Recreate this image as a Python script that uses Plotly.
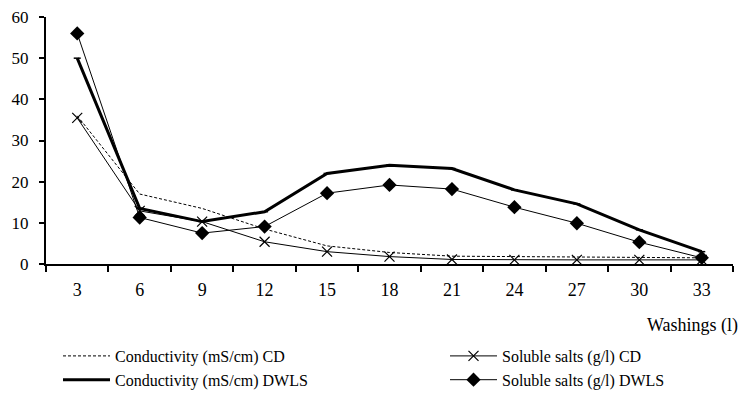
import plotly.graph_objects as go

washings = ["3", "6", "9", "12", "15", "18", "21", "24", "27", "30", "33"]
cond_cd = [36, 17, 13.5, 8.5, 4.4, 2.8, 1.9, 1.8, 1.7, 1.7, 1.5]
salts_cd = [35.5, 12.9, 10.3, 5.4, 3.0, 1.8, 1.1, 1.0, 1.0, 1.0, 1.0]
cond_dwls = [50, 13.5, 10.3, 12.7, 22, 24, 23.2, 18, 14.6, 8.3, 3.0]
salts_dwls = [56, 11.3, 7.5, 9.1, 17.2, 19.2, 18.2, 13.8, 9.9, 5.3, 1.5]

FONT = "Liberation Serif, Times New Roman, serif"

fig = go.Figure()
fig.add_trace(go.Scatter(
    x=washings, y=cond_cd, mode="lines", name="Conductivity (mS/cm) CD",
    line=dict(color="black", width=1, dash="3px,2px"), legend="legend"))
fig.add_trace(go.Scatter(
    x=washings, y=cond_dwls, mode="lines+markers", name="Conductivity (mS/cm) DWLS",
    line=dict(color="black", width=3),
    marker=dict(symbol="line-ew-open", size=5, color="black", line=dict(width=1.5, color="black")),
    legend="legend"))
fig.add_trace(go.Scatter(
    x=washings, y=salts_cd, mode="lines+markers", name="Soluble salts (g/l) CD",
    line=dict(color="black", width=1),
    marker=dict(symbol="x-thin-open", size=10, color="black", line=dict(width=1.2, color="black")),
    legend="legend2"))
fig.add_trace(go.Scatter(
    x=washings, y=salts_dwls, mode="lines+markers", name="Soluble salts (g/l) DWLS",
    line=dict(color="black", width=1),
    marker=dict(symbol="diamond", size=11, color="black"),
    legend="legend2"))

PW = 687.0
PH = 247.0

fig.update_layout(
    width=742, height=396,
    margin=dict(l=46, r=9, t=17, b=132, autoexpand=False),
    paper_bgcolor="white", plot_bgcolor="white",
    font=dict(family=FONT, size=16, color="black"),
    xaxis=dict(type="category", range=[-0.5, 10.5], showline=True, linecolor="black",
               linewidth=2, ticks="outside", tickson="boundaries", ticklen=6,
               tickcolor="black", tickwidth=1.5, showgrid=False, zeroline=False,
               ticklabelstandoff=8, tickfont=dict(size=18), automargin=False),
    yaxis=dict(range=[0, 60], dtick=10, showline=True, linecolor="black", linewidth=2,
               ticks="outside", ticklen=5, tickcolor="black", tickwidth=1.5,
               showgrid=False, zeroline=False, ticklabelstandoff=7,
               tickfont=dict(size=17), automargin=False),
    legend=dict(x=(58 - 46) / PW, y=-(339 - 264) / PH, xanchor="left", yanchor="top",
                orientation="v", font=dict(size=16), tracegroupgap=0,
                bgcolor="rgba(0,0,0,0)", itemwidth=47),
    legend2=dict(x=(445 - 46) / PW, y=-(339 - 264) / PH, xanchor="left", yanchor="top",
                 orientation="v", font=dict(size=16), tracegroupgap=0,
                 bgcolor="rgba(0,0,0,0)", itemwidth=47),
    annotations=[dict(text="Washings (l)", xref="paper", yref="paper",
                      x=(740 - 46) / PW, y=-(325 - 264) / PH, xanchor="right",
                      yanchor="middle", showarrow=False, font=dict(size=18))],
    showlegend=True,
)

fig.write_html("out.html")
